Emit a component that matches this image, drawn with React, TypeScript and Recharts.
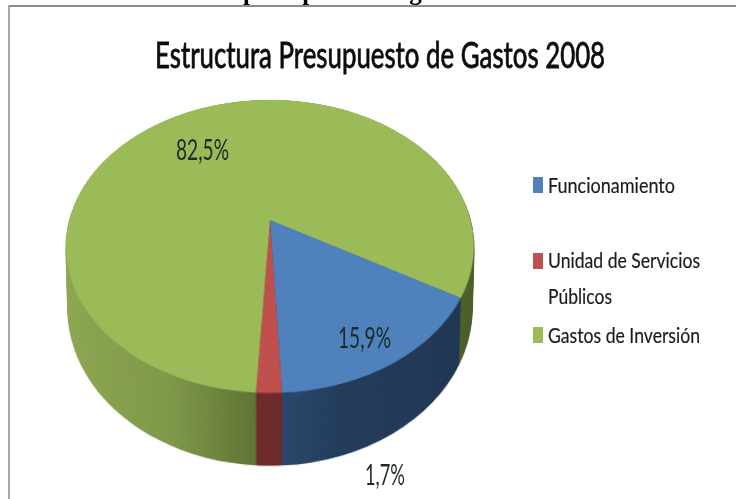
import { Legend, Pie, PieChart, Cell } from "recharts";

const categories = ["Funcionamiento", "Unidad de Servicios Públicos", "Gastos de Inversión"];
const values = [15.9, 1.7, 82.5];
const topColors = ["#4f81bd", "#c0504d", "#9bbb59"];
const wallColors = ["url(#wallBlue)", "#6e2a2b", "url(#wallGreen)"];

const data = categories.map((name, i) => ({ name, value: values[i], fill: topColors[i] }));

const W = 736;
const H = 499;
const CX = 270;
const CY = 220;
const RADIUS = 200.6;
const DEPTH = 94;
const STEP = 1.25;
const START = -30;

const wallDepths: number[] = [];
for (let z = DEPTH; z > 0; z -= STEP) wallDepths.push(z);

const fontFamily = "Lato, 'Open Sans', sans-serif";
const fmt = (v: number) => `${v.toFixed(1).replace(".", ",")}%`;

function Disc({ z, colors }: { z: number; colors: string[] }) {
    const scale = 1 + (z / DEPTH) * 0.075;
    return (
        <div
            style={{
                position: "absolute",
                left: 0,
                top: 0,
                width: W,
                height: H,
                transformOrigin: `${CX}px ${CY}px`,
                transform: `perspective(788px) rotateX(45deg) translateZ(${-z}px) scale(${scale})`,
            }}
        >
            <PieChart width={W} height={H} margin={{ top: 0, right: 0, bottom: 0, left: 0 }}>
                <defs>
                    <linearGradient id="wallGreen" gradientUnits="userSpaceOnUse" x1={60} x2={480} y1={0} y2={0}>
                        <stop offset="0" stopColor="#90aa52" />
                        <stop offset="0.3" stopColor="#7f9849" />
                        <stop offset="0.47" stopColor="#5f7533" />
                        <stop offset="0.9" stopColor="#4d6128" />
                        <stop offset="1" stopColor="#465a24" />
                    </linearGradient>
                    <linearGradient id="wallBlue" gradientUnits="userSpaceOnUse" x1={280} x2={470} y1={0} y2={0}>
                        <stop offset="0" stopColor="#2a466a" />
                        <stop offset="0.25" stopColor="#233c5b" />
                        <stop offset="1" stopColor="#1f3450" />
                    </linearGradient>
                </defs>
                <Pie
                    data={data}
                    dataKey="value"
                    nameKey="name"
                    cx={CX}
                    cy={CY}
                    outerRadius={RADIUS}
                    startAngle={START}
                    endAngle={START - 360}
                    stroke="none"
                    isAnimationActive={false}
                >
                    {colors.map((c, i) => (
                        <Cell key={i} fill={c} stroke="none" />
                    ))}
                </Pie>
            </PieChart>
        </div>
    );
}

const legendLines = [
    { text: "Funcionamiento", baseline: 193, width: 127 },
    { text: "Unidad de Servicios", baseline: 268, width: 152 },
    { text: "Públicos", baseline: 304, width: 64 },
    { text: "Gastos de Inversión", baseline: 343, width: 152 },
];
const legendSwatches = [177, 253, 327];

function LegendBlock({ payload }: any) {
    return (
        <svg width={W} height={H} style={{ display: "block" }}>
            {(payload ?? []).map((p: any, i: number) => (
                <rect key={p.value} x={533} y={legendSwatches[i]} width={10} height={16} fill={p.color} />
            ))}
            {legendLines.map((l) => (
                <text
                    key={l.text}
                    x={548}
                    y={l.baseline}
                    fontFamily={fontFamily}
                    fontSize={21}
                    fill="#1c1c1c"
                    stroke="#1c1c1c"
                    strokeWidth={0.2}
                    textLength={l.width}
                    lengthAdjust="spacingAndGlyphs"
                >
                    {l.text}
                </text>
            ))}
        </svg>
    );
}

const valueLabels = [
    { value: values[2], x: 176, y: 160, width: 53 },
    { value: values[0], x: 338, y: 348, width: 53 },
    { value: values[1], x: 365, y: 485, width: 40 },
];

export default function App() {
    return (
        <div style={{ position: "absolute", left: 0, top: 0, width: W, height: H, background: "#fff", overflow: "hidden" }}>
            <div style={{ position: "absolute", left: 0, top: 0, width: W, height: H }}>
                {wallDepths.map((z) => (
                    <Disc key={z} z={z} colors={wallColors} />
                ))}
                <Disc z={0} colors={topColors} />
            </div>
            <div style={{ position: "absolute", left: 0, top: 0 }}>
                <PieChart width={W} height={H} margin={{ top: 0, right: 0, bottom: 0, left: 0 }}>
                    <rect x={9} y={5} width={W - 9} height={2} fill="#8c8c8c" />
                    <rect x={8} y={5} width={2} height={H - 5} fill="#a6a6a6" />
                    <text x={243} y={0} fontFamily="'Liberation Serif', serif" fontWeight="bold" fontSize={25} fill="#000">
                        presupuesto de gastos
                    </text>
                    <text
                        transform="translate(155 68) scale(0.7 1)"
                        fontFamily={fontFamily}
                        fontSize={36}
                        fill="#0c0c0c"
                        stroke="#0c0c0c"
                        strokeWidth={0.8}
                        textLength={643}
                        lengthAdjust="spacingAndGlyphs"
                    >
                        Estructura Presupuesto de Gastos 2008
                    </text>
                    <Pie
                        data={data}
                        dataKey="value"
                        nameKey="name"
                        cx={CX}
                        cy={CY}
                        outerRadius={0}
                        isAnimationActive={false}
                    />
                    {valueLabels.map((l) => (
                        <text
                            key={l.value}
                            x={l.x}
                            y={l.y}
                            fontFamily={fontFamily}
                            fontSize={29}
                            fill="#1c2a2a"
                            textLength={l.width}
                            lengthAdjust="spacingAndGlyphs"
                        >
                            {fmt(l.value)}
                        </text>
                    ))}
                    <Legend
                        content={<LegendBlock />}
                        itemSorter={null}
                        wrapperStyle={{ position: "absolute", left: 0, top: 0, width: W, height: H, pointerEvents: "none" }}
                    />
                </PieChart>
            </div>
        </div>
    );
}
